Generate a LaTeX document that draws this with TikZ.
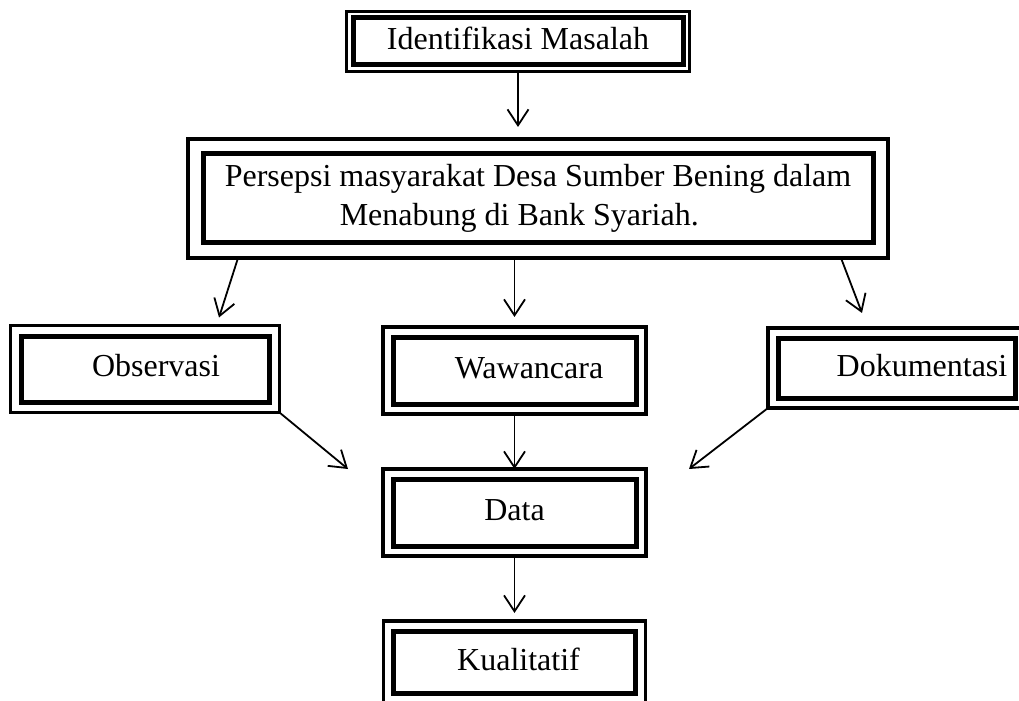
\documentclass[tikz,border=0pt]{standalone}
\usepackage{fontspec}
\setmainfont{Liberation Serif}
\usetikzlibrary{arrows.meta,fit,calc}
\tikzset{panah/.style={line width=0.9pt, -{Straight Barb[length=8pt,width=10.5pt]}}}
\tikzset{kotak/.style={draw, line width=2.5pt, outer sep=0pt, inner sep=0pt, font=\fontsize{16}{19.5}\selectfont}}
\tikzset{satu/.style={kotak, text height=11pt, text depth=3pt}}
\tikzset{bingkai/.style={draw, line width=1.9pt, outer sep=0pt}}

\begin{document}
\begin{tikzpicture}[x=0.5pt, y=-0.5pt]
\useasboundingbox (0, 0) rectangle (1019, 701);
% kotak dalam
\node[satu, minimum width=165pt, minimum height=23.5pt] (idm) at (518, 41.5) {Identifikasi Masalah};
\node[kotak, minimum width=335pt, minimum height=44.5pt, align=left] (per) at (538, 198.5) {Persepsi masyarakat Desa Sumber Bening dalam\\\hspace*{57.5pt}Menabung di Bank Syariah.};
\node[satu, minimum width=124pt, minimum height=33pt] (obs) at (145, 369) {\hspace*{11pt}Observasi};
\node[satu, minimum width=121.5pt, minimum height=33.5pt] (waw) at (514.5, 370.5) {\hspace*{14.5pt}Wawancara};
\node[satu, minimum width=118.5pt, minimum height=30pt] (dok) at (896.5, 368) {\hspace*{25.5pt}Dokumentasi};
\node[satu, minimum width=121.5pt, minimum height=33.5pt] (data) at (514.5, 512.5) {Data};
\node[satu, minimum width=121pt, minimum height=31pt] (kual) at (514.5, 662) {\hspace*{4pt}Kualitatif};
% bingkai luar
\node[bingkai, fit=(idm), inner sep=3.25pt] (idm-luar) {};
\node[bingkai, fit=(per), inner sep=7.5pt] (per-luar) {};
\node[bingkai, fit=(obs), inner sep=5.25pt] (obs-luar) {};
\node[bingkai, fit=(waw), inner sep=5pt] (waw-luar) {};
\node[bingkai, fit=(dok), inner sep=5pt] (dok-luar) {};
\node[bingkai, fit=(data), inner sep=5pt] (data-luar) {};
\node[bingkai, fit=(kual), inner sep=5pt] (kual-luar) {};
% panah
\draw[panah, shorten >=6pt] (idm-luar.south) -- (idm-luar.south |- per-luar.north);
\draw[panah] ([xshift=25pt]per-luar.south west) -- ([shift={(37pt,4pt)}]obs-luar.north);
\draw[panah, shorten >=5pt] (waw-luar.north |- per-luar.south) -- (waw-luar.north);
\draw[panah] ([xshift=-23.5pt]per-luar.south east) -- ([shift={(-17.25pt,7.5pt)}]dok-luar.north);
\draw[panah] (waw-luar.south) -- (data-luar.north);
\draw[panah] (obs-luar.south east) -- ([xshift=-17.5pt]data-luar.north west);
\draw[panah] (dok-luar.south west) -- ([xshift=21.5pt]data-luar.north east);
\draw[panah, shorten >=4pt] (data-luar.south) -- (data-luar.south |- kual-luar.north);
\end{tikzpicture}
\end{document}
